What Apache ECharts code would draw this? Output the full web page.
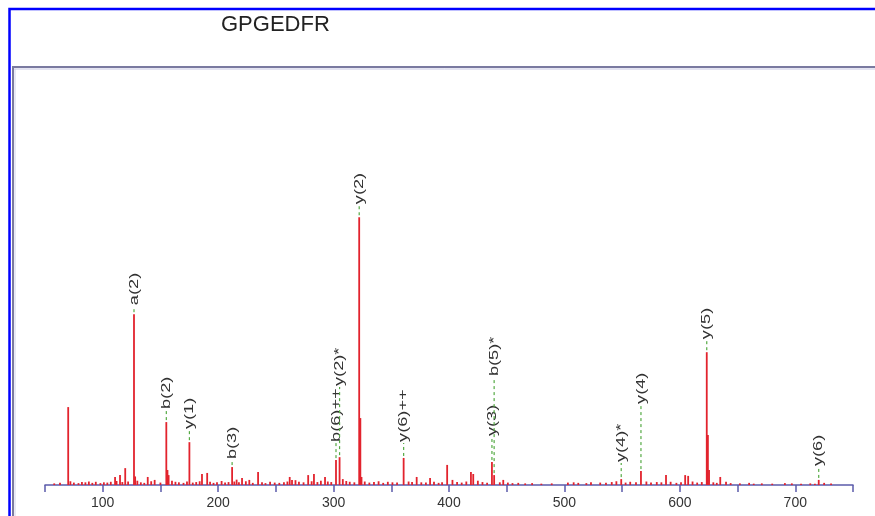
<!DOCTYPE html>
<html>
<head>
<meta charset="utf-8">
<script src="https://cdn.jsdelivr.net/npm/echarts@6/dist/echarts.min.js"></script>
<style>
html,body{margin:0;padding:0;background:#fff;}
#chart{width:875px;height:516px;}
</style>
</head>
<body>
<div id="chart"></div>
<script>
// ---- data ----
const titleText = 'GPGEDFR';
const tickValues = [100, 200, 300, 400, 500, 600, 700];
const tickLabels = ['100', '200', '300', '400', '500', '600', '700'];

// main peaks (m/z, relative intensity)
const peakMz = [70.1, 110.7, 115.0, 119.5, 127.1, 128.1, 139.0, 155.1, 156.1, 157.1, 175.1, 186.0, 190.5,
  212.1, 216.0, 220.7, 234.6, 262.0, 264.0, 278.0, 283.0, 292.6, 302.1, 305.2, 308.0, 322.2, 323.2, 324.2,
  360.7, 372.0, 383.6, 398.4, 403.0, 419.0, 421.0, 437.2, 439.1, 447.0, 549.2, 566.3, 588.0, 604.6, 607.2,
  623.3, 624.3, 625.3, 635.0, 720.3];
const peakInt = [29.1, 3.0, 3.7, 6.3, 63.8, 3.2, 3.0, 23.5, 5.6, 3.7, 16.0, 4.1, 4.5,
  6.7, 2.0, 2.6, 4.9, 3.0, 1.9, 3.7, 4.1, 3.0, 9.3, 10.4, 2.2, 100, 25.0, 3.0,
  10.1, 3.0, 2.6, 7.5, 1.9, 4.9, 4.1, 8.6, 3.7, 1.9, 2.2, 5.2, 3.7, 3.7, 3.4,
  49.6, 18.7, 5.6, 3.0, 1.9];

// baseline noise sticks
const noiseMz = [58, 63, 72, 75, 79, 82, 85, 88, 91, 94, 98, 101, 104, 107, 112, 117, 122, 130, 133, 136, 142, 145, 150,
  160, 163, 166, 170, 173, 178, 181, 184, 193, 196, 199, 203, 206, 209, 214, 218, 224, 227, 230, 238, 241, 245, 249,
  253, 257, 260, 267, 270, 274, 281, 286, 289, 295, 298, 311, 314, 318, 327, 331, 335, 339, 343, 347, 351, 355, 365,
  368, 376, 380, 387, 391, 394, 407, 411, 415, 425, 429, 433, 444, 451, 455, 460, 466, 472, 480, 489, 503, 508, 512,
  519, 523, 531, 536, 541, 545, 553, 557, 562, 571, 575, 580, 584, 592, 597, 601, 611, 615, 619, 629, 632, 640, 644,
  652, 660, 664, 671, 680, 691, 697, 705, 713, 717, 725, 731];
const noiseInt = [0.6, 0.8, 1.4, 0.9, 0.7, 1.1, 1.0, 1.3, 0.8, 1.2, 0.7, 1.0, 0.9, 1.2, 1.5, 1.1, 1.3, 1.6, 1.0, 0.8, 1.4, 1.9, 0.9,
  1.6, 1.2, 1.0, 0.8, 1.3, 0.9, 1.1, 1.4, 1.2, 0.8, 1.0, 1.5, 0.9, 1.1, 1.3, 1.0, 1.4, 1.9, 0.8, 1.0, 0.7, 1.2, 0.9,
  0.8, 1.0, 1.3, 1.8, 1.2, 1.0, 1.4, 1.1, 1.6, 1.3, 1.1, 1.5, 1.2, 1.0, 1.3, 0.9, 1.1, 1.4, 0.8, 1.2, 1.0, 0.9, 1.3,
  1.1, 1.0, 0.9, 1.2, 0.8, 1.0, 1.1, 0.9, 1.3, 1.6, 1.1, 0.8, 1.0, 0.9, 0.7, 0.8, 0.6, 0.7, 0.5, 0.6, 0.9, 1.0, 0.8,
  0.7, 1.0, 0.9, 0.8, 1.1, 1.4, 0.9, 1.2, 1.0, 1.3, 0.9, 1.1, 1.0, 1.2, 0.8, 1.0, 1.3, 0.9, 1.1, 1.0, 0.8, 1.2, 0.7,
  0.6, 0.8, 0.5, 0.6, 0.5, 0.7, 0.6, 0.5, 0.6, 0.5, 0.8, 0.6];

// fragment annotations: m/z, peak intensity, label level (intensity units), text
const annMz = [127.1, 155.1, 175.1, 212.1, 302.1, 305.2, 322.2, 360.7, 437.2, 439.1, 549.2, 566.3, 623.3, 720.3];
const annInt = [63.8, 23.5, 16.0, 6.7, 9.3, 10.4, 100, 10.1, 8.6, 3.7, 2.2, 5.2, 49.6, 1.9];
const annLevel = [66.8, 28.0, 20.5, 9.3, 15.7, 36.6, 104.5, 15.7, 17.9, 40.3, 8.2, 29.9, 54.1, 6.7];
const annText = ['a(2)', 'b(2)', 'y(1)', 'b(3)', 'b(6)++', 'y(2)*', 'y(2)', 'y(6)++', 'y(3)', 'b(5)*', 'y(4)*', 'y(4)', 'y(5)', 'y(6)'];

// ---- build ----
const stickData = [];
noiseMz.forEach((m, i) => stickData.push([m, noiseInt[i]]));
peakMz.forEach((m, i) => stickData.push([m, peakInt[i]]));
const annData = annMz.map((m, i) => [m, annInt[i], annLevel[i], annText[i]]);

const chart = echarts.init(document.getElementById('chart'), null, {renderer: 'canvas'});
const axisColor = '#5b5bab';

chart.setOption({
  backgroundColor: '#ffffff',
  animation: false,
  title: {
    text: titleText, left: 216, top: 9,
    textStyle: {fontFamily: 'Liberation Sans, Arial, sans-serif', fontSize: 22, fontWeight: 'normal', color: '#222'}
  },
  grid: {left: 45, right: 22, top: 70, bottom: 31},
  xAxis: {
    type: 'value', min: 50, max: 750, interval: 50,
    axisLine: {lineStyle: {color: axisColor, width: 1.5}},
    axisTick: {length: 7, lineStyle: {color: axisColor, width: 1.5}},
    splitLine: {show: false},
    axisLabel: {
      formatter: v => { const k = tickValues.indexOf(v); return k >= 0 ? tickLabels[k] : ''; },
      color: '#333', fontSize: 14, margin: 11, fontFamily: 'Liberation Sans, Arial, sans-serif',
      showMinLabel: true, showMaxLabel: true
    }
  },
  yAxis: {type: 'value', min: 0, max: 155, show: false},
  graphic: [
    {type: 'rect', shape: {x: 9.5, y: 9, width: 900, height: 600}, style: {fill: 'none', stroke: '#0000ff', lineWidth: 2.5}, z: 100},
    {type: 'rect', shape: {x: 13, y: 67, width: 900, height: 600}, style: {fill: 'none', stroke: '#7a7aa0', lineWidth: 2}, z: 100},
    {type: 'line', shape: {x1: 14, y1: 69, x2: 875, y2: 69}, style: {stroke: '#c8c8e4', lineWidth: 1}, z: 100},
    {type: 'line', shape: {x1: 15, y1: 69, x2: 15, y2: 516}, style: {stroke: '#d4d4ea', lineWidth: 1}, z: 100}
  ],
  series: [
    {
      type: 'custom',
      data: stickData,
      silent: true,
      renderItem: (params, api) => {
        const m = api.value(0), h = api.value(1);
        const p0 = api.coord([m, 0]);
        const p1 = api.coord([m, h]);
        return {type: 'line', shape: {x1: p0[0], y1: p0[1], x2: p1[0], y2: p1[1]},
          style: {stroke: '#e2232d', lineWidth: 1.8}};
      },
      z: 2
    },
    {
      type: 'custom',
      data: annData,
      silent: true,
      renderItem: (params, api) => {
        const m = api.value(0), h = api.value(1), lv = api.value(2);
        const txt = annData[params.dataIndex][3];
        const pt = api.coord([m, h]);
        const pl = api.coord([m, lv]);
        return {
          type: 'group',
          children: [
            {type: 'line', shape: {x1: pt[0], y1: pt[1] - 2, x2: pl[0], y2: pl[1]},
              style: {stroke: '#55aa44', lineWidth: 1.2, lineDash: [3, 3]}},
            {type: 'text', x: pl[0], y: pl[1] - 1, rotation: Math.PI / 2, scaleX: 1.4, scaleY: 1,
              style: {text: txt, fill: '#333', font: '13px "Liberation Sans", Arial, sans-serif',
                align: 'left', verticalAlign: 'middle', textAlign: 'left', textVerticalAlign: 'middle'}}
          ]
        };
      },
      z: 3
    }
  ]
});
</script>
</body>
</html>
